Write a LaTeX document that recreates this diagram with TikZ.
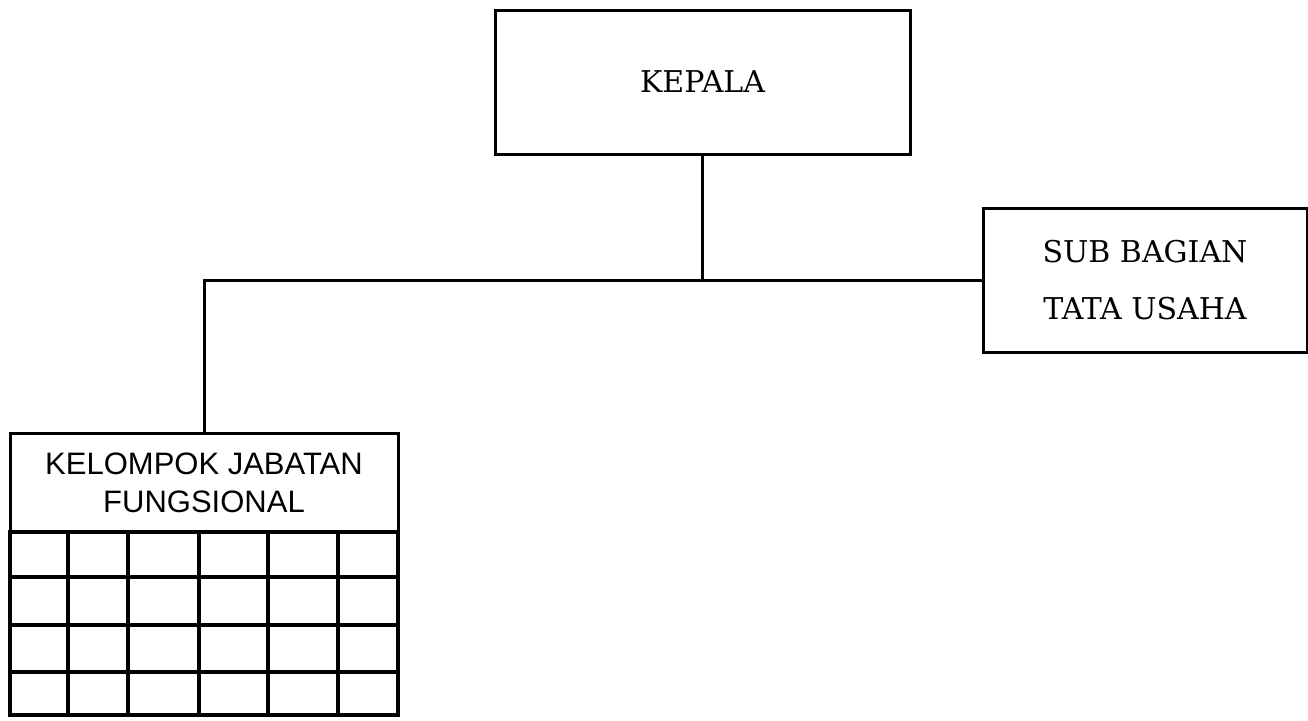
\documentclass[tikz,border=0pt]{standalone}
\usepackage{fontspec}
\setmainfont{DejaVu Serif}
\newfontfamily\kjffont{Liberation Sans}
\begin{document}
\begin{tikzpicture}[x=1pt,y=-1pt,
  box/.style={draw=black,line width=3pt,rectangle,inner sep=0pt,align=center},
  link/.style={draw=black,line width=3pt},
  gridline/.style={draw=black,line width=3.5pt}]
\useasboundingbox[fill=white] (0,0) rectangle (1308,720);
\node[box,minimum width=415pt,minimum height=144pt,font=\fontsize{30}{36}\selectfont] (kepala) at (702.5,82) {KEPALA};
\node[box,minimum width=324pt,minimum height=144pt,font=\fontsize{30}{57}\selectfont] (sub) at (1145,280) {SUB BAGIAN\\TATA USAHA};
\node[box,minimum width=388pt,minimum height=99pt,font=\kjffont\fontsize{31}{38}\selectfont] (kjf) at (204,482.5) {KELOMPOK JABATAN\\FUNGSIONAL};
\coordinate (junc) at (kepala.south |- sub.west);
\draw[link] (kepala.south) -- (junc);
\draw[link] (kjf.north) |- (sub.west);
% grid of cells below the header
\draw[gridline] (10,532) rectangle (398,715);
\foreach \x in {68,128,199,268,338} \draw[gridline] (\x,532) -- (\x,715);
\foreach \y in {577,625,672} \draw[gridline] (10,\y) -- (398,\y);
\end{tikzpicture}
\end{document}
